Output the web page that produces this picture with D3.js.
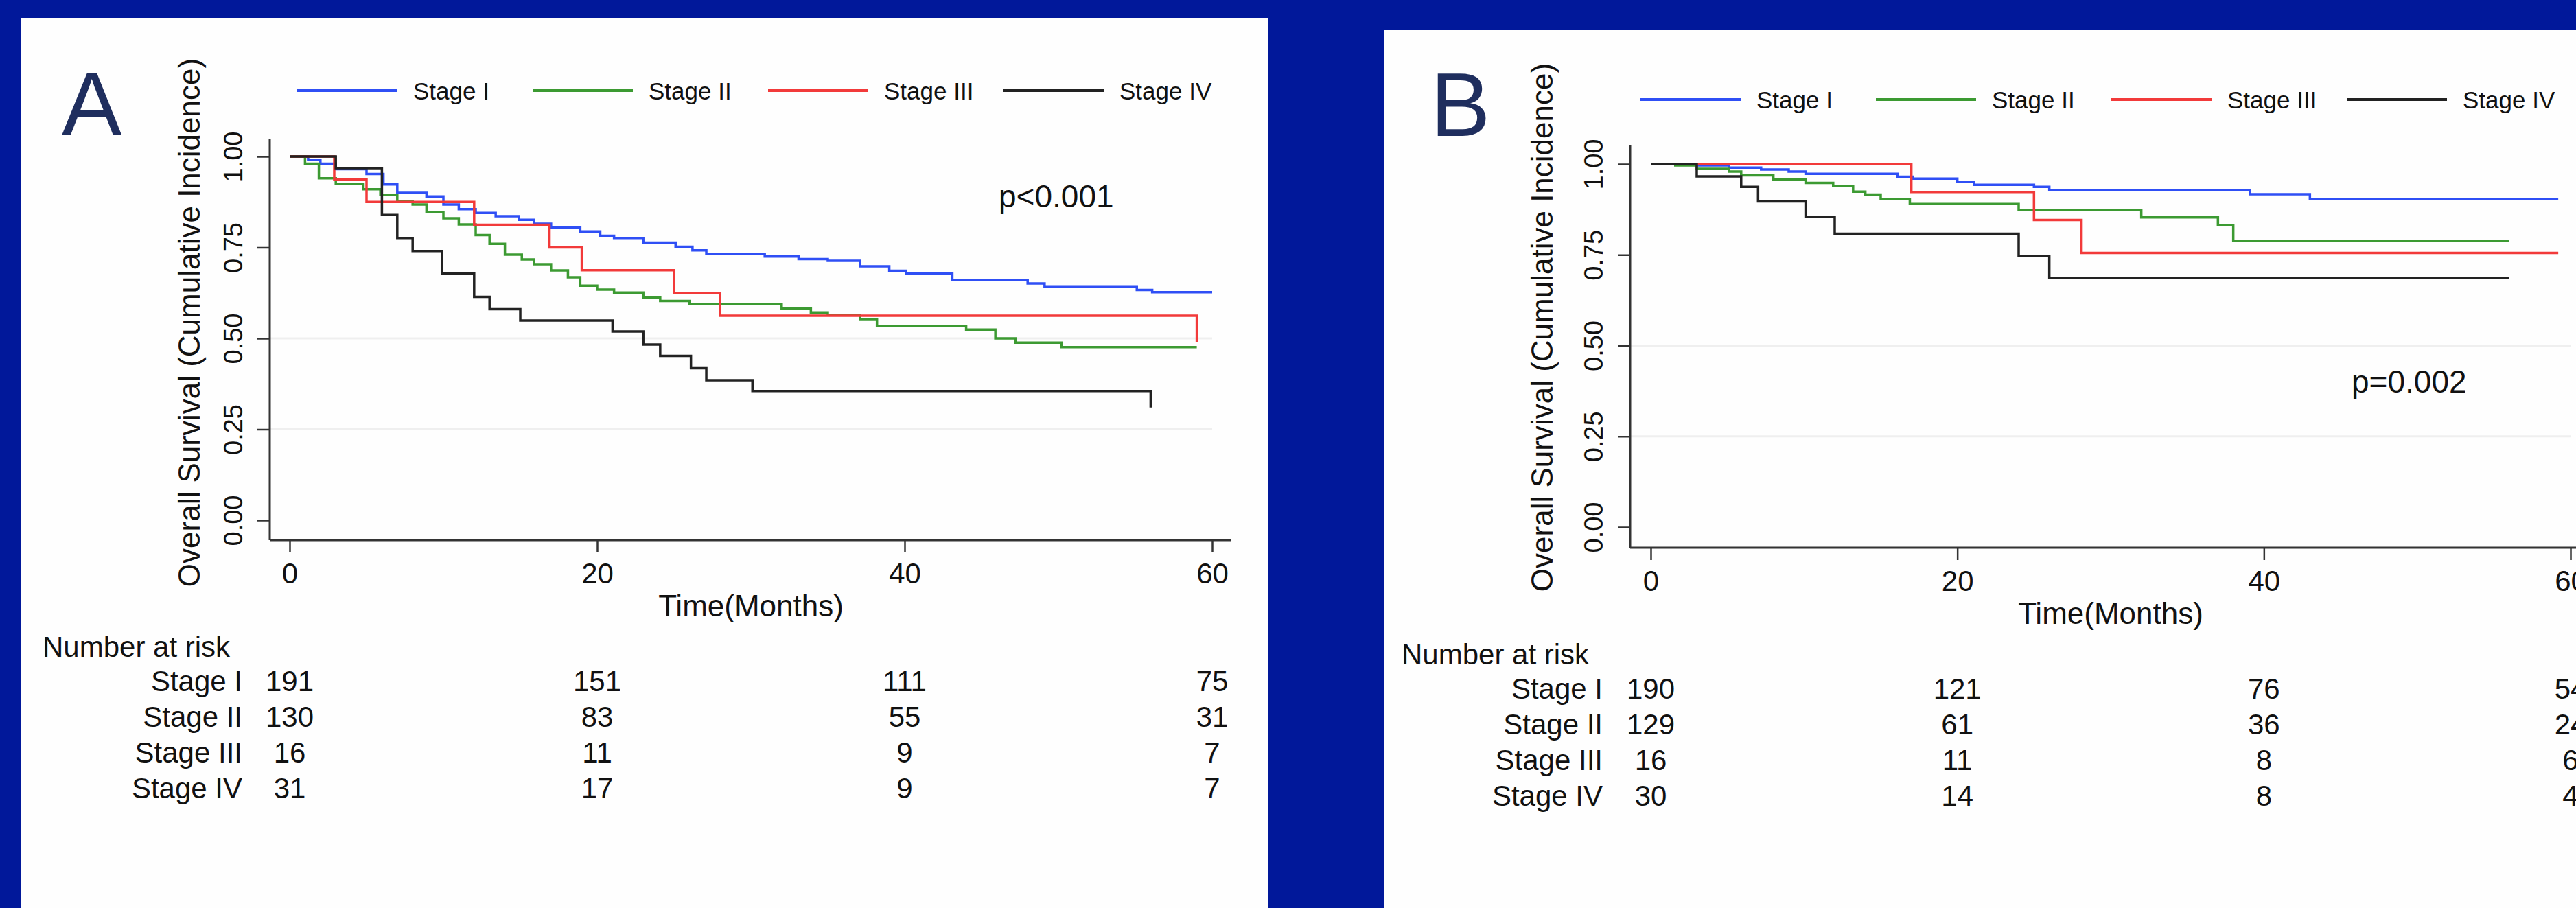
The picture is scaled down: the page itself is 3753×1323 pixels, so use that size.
<!DOCTYPE html>
<html>
<head>
<meta charset="utf-8">
<script src="https://cdn.jsdelivr.net/npm/d3@7/dist/d3.min.js"></script>
<style>
  body { margin: 0; background: #01189a; overflow: hidden; }
  svg text { font-family: "Liberation Sans", Arial, Helvetica, sans-serif; fill: #111; }
</style>
</head>
<body>
<div id="chart"></div>
<script>
const W = 3753, H = 1323;

const stages = ["Stage I", "Stage II", "Stage III", "Stage IV"];
const colors = ["#2f4ff5", "#3c9a32", "#f23a3a", "#222222"];
const xTicks = [0, 20, 40, 60];
const yTicks = [0, 0.25, 0.5, 0.75, 1];

// panel A : [month, survival]
const survA_I = [[0,1],[1.2,0.99],[2.0,0.98],[3.0,0.965],[5.0,0.952],[6.1,0.923],[7.0,0.90],[8.9,0.89],[10.0,0.868],[11.0,0.855],[12.1,0.845],[13.4,0.836],[14.9,0.826],[15.9,0.815],[17.0,0.805],[18.9,0.794],[20.2,0.782],[21.1,0.776],[23.0,0.763],[25.1,0.752],[26.2,0.742],[27.1,0.732],[30.9,0.725],[33.1,0.718],[35.0,0.713],[37.1,0.698],[39.0,0.686],[40.1,0.679],[43.1,0.66],[48.0,0.651],[49.1,0.643],[55.1,0.633],[56.1,0.627],[60,0.627]];
const survA_II = [[0,1],[1.0,0.98],[1.9,0.94],[3.0,0.925],[4.8,0.91],[5.9,0.895],[7.0,0.878],[8.0,0.868],[8.9,0.847],[10.0,0.83],[11.0,0.813],[12.1,0.784],[13.0,0.76],[14.0,0.73],[15.1,0.717],[15.9,0.704],[17.0,0.687],[18.1,0.668],[18.9,0.645],[20.0,0.634],[21.1,0.626],[23.0,0.612],[24.1,0.603],[26.0,0.595],[32.0,0.582],[33.9,0.571],[35.0,0.564],[37.1,0.553],[38.2,0.534],[44.0,0.524],[45.9,0.50],[47.2,0.488],[50.2,0.476],[59.0,0.476]];
const survA_III = [[0,1],[2.9,0.9375],[5.0,0.875],[12.0,0.8125],[16.9,0.75],[19.0,0.6875],[25.0,0.625],[28.0,0.5625],[59.0,0.49]];
const survA_IV = [[0,1],[3.0,0.968],[6.0,0.839],[7.0,0.776],[8.0,0.74],[9.9,0.679],[12.0,0.614],[13.0,0.58],[15.0,0.549],[21.0,0.519],[23.0,0.483],[24.1,0.452],[26.1,0.418],[27.1,0.385],[30.1,0.355],[56.0,0.31]];
const riskA = [[191,151,111,75],[130,83,55,31],[16,11,9,7],[31,17,9,7]];

// panel B
const survB_I = [[0,1],[3.0,0.996],[5.1,0.99],[7.2,0.985],[9.0,0.979],[10.1,0.973],[16.1,0.965],[17.1,0.96],[20.0,0.951],[21.1,0.943],[25.0,0.937],[26.0,0.928],[39.1,0.917],[43.0,0.903],[59.2,0.903]];
const survB_II = [[0,1],[1.6,0.996],[3.0,0.987],[5.1,0.979],[5.9,0.969],[8.0,0.958],[10.1,0.948],[11.9,0.939],[13.2,0.924],[14.0,0.916],[15.0,0.903],[16.9,0.89],[24.0,0.874],[32.0,0.853],[37.0,0.832],[38.0,0.788],[56.0,0.788]];
const survB_III = [[0,1],[17.0,0.923],[25.0,0.846],[28.1,0.755],[59.2,0.755]];
const survB_IV = [[0,1],[3.0,0.966],[5.9,0.937],[7.0,0.897],[10.1,0.855],[12.0,0.808],[24.0,0.747],[26.0,0.686],[56.0,0.686]];
const riskB = [[190,121,76,54],[129,61,36,24],[16,11,8,6],[30,14,8,4]];

const svg = d3.select("#chart").append("svg")
  .attr("width", W).attr("height", H);

svg.append("rect").attr("width", W).attr("height", H).attr("fill", "#01189a");

const panels = [
  { letter: "A", lx: 90, ly: 197, box: [30, 26, 1817, 1297],
    x0: 422, x1: 1766, y0: 758, y1: 228, axX: 393, axTop: 202, axY: 787, axRight: 1794,
    titleX: 291, titleY: 470, xlabY: 898, legX: 433, legY: 132,
    pText: "p<0.001", pX: 1455, pY: 302, riskX: 62, riskY: 957,
    curves: [survA_I, survA_II, survA_III, survA_IV], risk: riskA },
  { letter: "B", lx: 2084, ly: 198, box: [2016, 43, 1800, 1280],
    x0: 2405, x1: 3745, y0: 768, y1: 239, axX: 2375, axTop: 211, axY: 798, axRight: 3790,
    titleX: 2262, titleY: 477, xlabY: 909, legX: 2390, legY: 145,
    pText: "p=0.002", pX: 3426, pY: 572, riskX: 2042, riskY: 968,
    curves: [survB_I, survB_II, survB_III, survB_IV], risk: riskB }
];

panels.forEach(drawPanel);

function drawPanel(p) {
  const g = svg.append("g");
  g.append("rect")
    .attr("x", p.box[0]).attr("y", p.box[1])
    .attr("width", p.box[2]).attr("height", p.box[3])
    .attr("fill", "#fefefe");

  const x = d3.scaleLinear().domain([0, 60]).range([p.x0, p.x1]);
  const y = d3.scaleLinear().domain([0, 1]).range([p.y0, p.y1]);

  // faint grid
  g.selectAll(".grid").data([0.25, 0.5]).enter().append("line")
    .attr("x1", p.axX).attr("x2", p.x1)
    .attr("y1", d => y(d)).attr("y2", d => y(d))
    .attr("stroke", "#efefef").attr("stroke-width", 3);

  g.append("text").text(p.letter)
    .attr("x", p.lx).attr("y", p.ly)
    .style("font-size", "131px").style("fill", "#1f2e5e");

  // axes
  const yAxis = g.append("g").attr("transform", "translate(" + p.axX + ",0)")
    .call(d3.axisLeft(y).tickValues(yTicks).tickSize(18).tickFormat(d3.format(".2f")));
  yAxis.select(".domain").remove();
  yAxis.selectAll(".tick line").attr("stroke", "#333").attr("stroke-width", 2.5);
  yAxis.selectAll(".tick text")
    .attr("x", 0).attr("dy", null)
    .attr("transform", "translate(-40,0) rotate(-90)")
    .attr("text-anchor", "middle")
    .style("font-size", "38px").style("fill", "#111");

  const xAxis = g.append("g").attr("transform", "translate(0," + p.axY + ")")
    .call(d3.axisBottom(x).tickValues(xTicks).tickSize(18));
  xAxis.select(".domain").remove();
  xAxis.selectAll(".tick line").attr("stroke", "#333").attr("stroke-width", 2.5);
  xAxis.selectAll(".tick text")
    .attr("y", 63).attr("dy", null)
    .style("font-size", "42px").style("fill", "#111");

  g.append("line").attr("x1", p.axX).attr("x2", p.axX)
    .attr("y1", p.axTop).attr("y2", p.axY)
    .attr("stroke", "#333").attr("stroke-width", 3);
  g.append("line").attr("x1", p.axX).attr("x2", p.axRight)
    .attr("y1", p.axY).attr("y2", p.axY)
    .attr("stroke", "#333").attr("stroke-width", 3);

  g.append("text").text("Overall Survival (Cumulative Incidence)")
    .attr("transform", "translate(" + p.titleX + "," + p.titleY + ") rotate(-90)")
    .attr("text-anchor", "middle").style("font-size", "44px");

  g.append("text").text("Time(Months)")
    .attr("x", x(30)).attr("y", p.xlabY)
    .attr("text-anchor", "middle").style("font-size", "44px");

  // KM curves
  const line = d3.line()
    .x(d => x(d[0])).y(d => y(d[1]))
    .curve(d3.curveStepAfter);
  g.selectAll(".km").data(p.curves).enter().append("path")
    .attr("d", line)
    .attr("fill", "none")
    .attr("stroke", (d, i) => colors[i])
    .attr("stroke-width", 3.5);

  // legend
  const leg = g.selectAll(".leg").data(stages).enter().append("g")
    .attr("transform", (d, i) => "translate(" + (p.legX + i * 343) + "," + p.legY + ")");
  leg.append("line").attr("x1", 0).attr("x2", 146)
    .attr("stroke", (d, i) => colors[i]).attr("stroke-width", 4);
  leg.append("text").text(d => d)
    .attr("x", 169).attr("y", 13)
    .style("font-size", "35px");

  g.append("text").text(p.pText)
    .attr("x", p.pX).attr("y", p.pY)
    .style("font-size", "46px");

  // number at risk
  g.append("text").text("Number at risk")
    .attr("x", p.riskX).attr("y", p.riskY)
    .style("font-size", "42px");
  const rows = g.selectAll(".row").data(p.risk).enter().append("g")
    .attr("transform", (d, i) => "translate(0," + (p.riskY + 50 + i * 52) + ")");
  rows.append("text").text((d, i) => stages[i])
    .attr("x", p.axX - 40).attr("text-anchor", "end")
    .style("font-size", "42px");
  rows.selectAll(".n").data(d => d).enter().append("text")
    .text(d => d)
    .attr("x", (d, j) => x(xTicks[j]))
    .attr("text-anchor", "middle")
    .style("font-size", "42px");
}
</script>
</body>
</html>
